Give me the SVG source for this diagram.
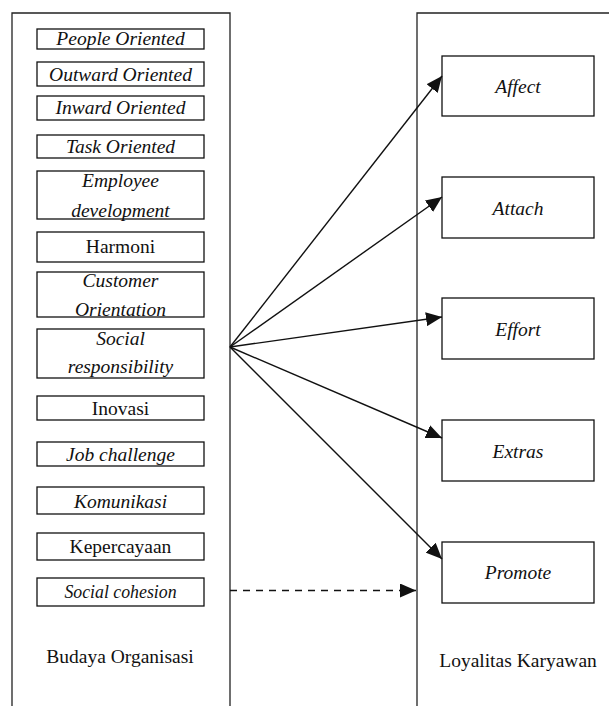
<svg xmlns="http://www.w3.org/2000/svg" width="609" height="706" viewBox="0 0 609 706">
<style>
.frame{fill:none;stroke:#222;stroke-width:1.3}
.box{fill:#fff;stroke:#111;stroke-width:1.3}
.t{font-family:"Liberation Serif","Times New Roman",serif;font-size:19.5px;fill:#111;text-anchor:middle}
.i{font-style:italic}
.c{stroke:#111;stroke-width:1.4;fill:none}
</style>
<defs>
<marker id="ah" viewBox="0 0 16 14" refX="16" refY="7" markerWidth="16" markerHeight="14" markerUnits="userSpaceOnUse" orient="auto">
<path d="M0,0 L16,7 L0,14 Z" fill="#111"/>
</marker>
</defs>
<g id="budaya-organisasi">
<path class="frame" d="M12,706 V13 H230 V706"/>
<text class="t" x="120" y="663">Budaya Organisasi</text>
</g>
<g id="loyalitas-karyawan">
<path class="frame" d="M417,706 V13 H609"/>
<text class="t" x="518" y="667">Loyalitas Karyawan</text>
</g>
<g id="people-oriented"><rect class="box" x="37" y="29" width="167" height="20"/><text class="t i" x="120.5" y="45">People Oriented</text></g>
<g id="outward-oriented"><rect class="box" x="37" y="62" width="167" height="24"/><text class="t i" x="120.5" y="81">Outward Oriented</text></g>
<g id="inward-oriented"><rect class="box" x="37" y="96" width="167" height="24"/><text class="t i" x="120.5" y="114">Inward Oriented</text></g>
<g id="task-oriented"><rect class="box" x="37" y="135" width="167" height="23"/><text class="t i" x="120.5" y="153">Task Oriented</text></g>
<g id="employee-development"><rect class="box" x="37" y="171" width="167" height="48"/><text class="t i" x="120.5" y="187">Employee</text><text class="t i" x="120.5" y="217">development</text></g>
<g id="harmoni"><rect class="box" x="37" y="232" width="167" height="30"/><text class="t" x="120.5" y="253">Harmoni</text></g>
<g id="customer-orientation"><rect class="box" x="37" y="272" width="167" height="45"/><text class="t i" x="120.5" y="287">Customer</text><text class="t i" x="120.5" y="316">Orientation</text></g>
<g id="social-responsibility"><rect class="box" x="37" y="329" width="167" height="49"/><text class="t i" x="120.5" y="345">Social</text><text class="t i" x="120.5" y="373">responsibility</text></g>
<g id="inovasi"><rect class="box" x="37" y="396" width="167" height="24"/><text class="t" x="120.5" y="415">Inovasi</text></g>
<g id="job-challenge"><rect class="box" x="37" y="442" width="167" height="24"/><text class="t i" x="120.5" y="461">Job challenge</text></g>
<g id="komunikasi"><rect class="box" x="37" y="487" width="167" height="27"/><text class="t i" x="120.5" y="508">Komunikasi</text></g>
<g id="kepercayaan"><rect class="box" x="37" y="533" width="167" height="27"/><text class="t" x="120.5" y="553">Kepercayaan</text></g>
<g id="social-cohesion"><rect class="box" x="37" y="578" width="167" height="28"/><text class="t i" x="120.5" y="598" style="font-size:17.8px">Social cohesion</text></g>
<g id="affect"><rect class="box" x="442" y="56" width="152" height="60"/><text class="t i" x="518" y="93">Affect</text></g>
<g id="attach"><rect class="box" x="442" y="177" width="152" height="61"/><text class="t i" x="518" y="215">Attach</text></g>
<g id="effort"><rect class="box" x="442" y="298" width="152" height="61"/><text class="t i" x="518" y="336">Effort</text></g>
<g id="extras"><rect class="box" x="442" y="420" width="152" height="61"/><text class="t i" x="518" y="458">Extras</text></g>
<g id="promote"><rect class="box" x="442" y="542" width="152" height="61"/><text class="t i" x="518" y="579">Promote</text></g>
<g id="connectors">
<line class="c" x1="230" y1="347" x2="442" y2="76" marker-end="url(#ah)"/>
<line class="c" x1="230" y1="347" x2="442" y2="197" marker-end="url(#ah)"/>
<line class="c" x1="230" y1="347" x2="442" y2="317" marker-end="url(#ah)"/>
<line class="c" x1="230" y1="347" x2="442" y2="438" marker-end="url(#ah)"/>
<line class="c" x1="230" y1="347" x2="442" y2="559" marker-end="url(#ah)"/>
<line class="c" x1="230" y1="590.5" x2="416" y2="590.5" stroke-dasharray="7 6" marker-end="url(#ah)"/>
</g>
</svg>
